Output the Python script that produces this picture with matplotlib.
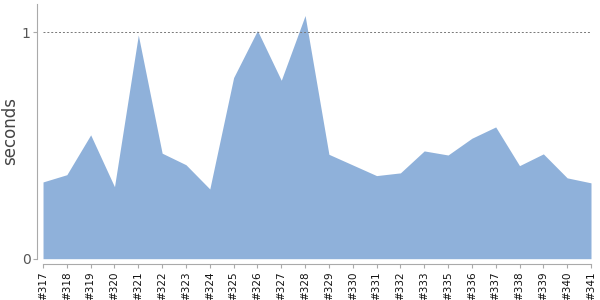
import numpy as np
import matplotlib
matplotlib.use("Agg")
import matplotlib.pyplot as plt

# build labels and run times (seconds)
builds = ['#317', '#318', '#319', '#320', '#321', '#322', '#323', '#324',
          '#325', '#326', '#327', '#328', '#329', '#330', '#331', '#332',
          '#333', '#335', '#336', '#337', '#338', '#339', '#340', '#341']
seconds = [0.339, 0.371, 0.547, 0.318, 0.988, 0.466, 0.415, 0.308,
           0.800, 1.008, 0.788, 1.074, 0.461, 0.414, 0.367, 0.379,
           0.476, 0.458, 0.532, 0.582, 0.411, 0.463, 0.357, 0.335]
yticks = [0, 1]

fig = plt.figure(figsize=(6, 3), dpi=100)
ax = fig.add_axes([0.0717, 0.1377, 0.9133, 0.849])

x = np.arange(len(builds))
ax.fill_between(x, 0, seconds, color='#8fb1da', linewidth=0)

ax.set_xlim(0, len(builds) - 1)
ax.set_ylim(0, 1.125)

for s in ['top', 'right']:
    ax.spines[s].set_visible(False)
for s in ['left', 'bottom']:
    ax.spines[s].set_position(('outward', 4))
    ax.spines[s].set_color('#aaaaaa')
ax.tick_params(axis='both', color='#aaaaaa', length=3, pad=2)
ax.tick_params(axis='x', labelrotation=90, labelsize=7.5, labelcolor='#111111')
ax.tick_params(axis='y', labelsize=10, labelcolor='#555555')

ax.set_xticks(x)
ax.set_xticklabels(builds)
ax.set_yticks(yticks)
ax.set_yticklabels([str(v) for v in yticks])
ax.set_ylabel('seconds', fontsize=12, color='#444444')
ax.yaxis.set_label_coords(-0.044, 0.5)

ax.yaxis.grid(True, linestyle=(0, (2, 2)), linewidth=0.7, color='#777777')
for line in ax.get_ygridlines():
    line.set_zorder(3)

fig.savefig('out.png', dpi=100)
